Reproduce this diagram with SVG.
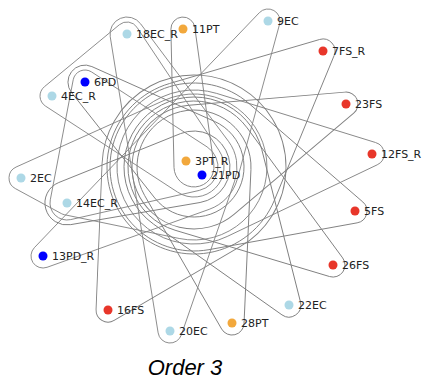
<svg xmlns="http://www.w3.org/2000/svg" width="423" height="381" viewBox="0 0 423 381">
<style>
.hull{fill:none;stroke:#808080;stroke-width:0.9}
.lbl{font-family:"DejaVu Sans",sans-serif;font-size:11px;fill:#222}
.ec{fill:#add8e6}.fs{fill:#e8362a}.pd{fill:#0000ff}.pt{fill:#f2a83c}
</style>
<rect width="423" height="381" fill="#fff"/>
<g id="connectors">
<path class="hull" transform="translate(194,167) rotate(-41.96)" d="M37.61,78.45 L178.69,10.82 A12,12 0 0 0 178.69,-10.82 L37.61,-78.45 A87,87 0 1 0 37.61,78.45 Z"/>
<path class="hull" transform="translate(194,167) rotate(-22.5)" d="M18.85,59.07 L168.15,11.43 A12,12 0 0 0 168.15,-11.43 L18.85,-59.07 A62,62 0 1 0 18.85,59.07 Z"/>
<path class="hull" transform="translate(194,167) rotate(-4.18)" d="M28.04,71.71 L182.87,11.18 A12,12 0 0 0 182.87,-11.18 L28.04,-71.71 A77,77 0 1 0 28.04,71.71 Z"/>
<path class="hull" transform="translate(194,167) rotate(15.3)" d="M36.24,75.78 L172.08,10.83 A12,12 0 0 0 172.08,-10.83 L36.24,-75.78 A84,84 0 1 0 36.24,75.78 Z"/>
<path class="hull" transform="translate(194,167) rotate(35.2)" d="M20.95,62.59 L173.91,11.38 A12,12 0 0 0 173.91,-11.38 L20.95,-62.59 A66,66 0 1 0 20.95,62.59 Z"/>
<path class="hull" transform="translate(194,167) rotate(55.5)" d="M24.24,65.67 L171.66,11.26 A12,12 0 0 0 171.66,-11.26 L24.24,-65.67 A70,70 0 1 0 24.24,65.67 Z"/>
<path class="hull" transform="translate(194,167) rotate(76.3)" d="M15.97,54.72 L163.96,11.52 A12,12 0 0 0 163.96,-11.52 L15.97,-54.72 A57,57 0 1 0 15.97,54.72 Z"/>
<path class="hull" transform="translate(194,167) rotate(121)" d="M44.1,80.74 L172.65,10.53 A12,12 0 0 0 172.65,-10.53 L44.1,-80.74 A92,92 0 1 0 44.1,80.74 Z"/>
<path class="hull" transform="translate(194,167) rotate(-94.6)" d="M1.16,19.97 L139.09,11.98 A12,12 0 0 0 139.09,-11.98 L1.16,-19.97 A20,20 0 1 0 1.16,19.97 Z"/>
<path class="hull" transform="translate(194,167) rotate(-142.1)" d="M11.94,48.55 L142.26,16.51 A17,17 0 0 0 142.26,-16.51 L11.94,-48.55 A50,50 0 1 0 11.94,48.55 Z"/>
<path class="hull" transform="translate(194,167) rotate(164.2)" d="M3.82,35.8 L134.33,21.88 A22,22 0 0 0 134.33,-21.88 L3.82,-35.8 A36,36 0 1 0 3.82,35.8 Z"/>
<path class="hull" d="M34.33,247.7 L259.33,12.7 A12,12 0 0 1 279.58,24.15 L237.41,178.83 A45,45 0 0 1 209.14,209.37 L47.04,267.3 A12,12 0 0 1 34.33,247.7 Z"/>
<path class="hull" d="M44.35,86.75 L119.35,24.75 A12,12 0 0 1 136.99,27.34 L218.97,150.36 A30,30 0 0 1 177.63,192.13 L45.45,106.05 A12,12 0 0 1 44.35,86.75 Z"/>
<path class="hull" d="M158.15,332.92 L110.22,36.72 A17,17 0 0 1 140.61,23.82 L228.43,141.24 A43,43 0 0 1 234.64,181.08 L181.34,334.93 A12,12 0 0 1 158.15,332.92 Z"/>
<path class="hull" d="M61.27,213.54 L15.27,188.54 A12,12 0 0 1 16.07,167.06 L164.01,100.42 A73,73 0 1 1 179.2,238.48 L64.57,214.75 A12,12 0 0 1 61.27,213.54 Z"/>
<path class="hull" d="M50.3,199.81 L73.21,79.75 A12,12 0 0 1 91.53,71.93 L207.06,146.86 A24,24 0 0 1 199.31,190.4 L70.76,219.58 A17,17 0 0 1 50.3,199.81 Z"/>
</g>
<g id="n-11PT"><circle class="pt" cx="183" cy="29" r="4.5"/><text class="lbl" x="192" y="33">11PT</text></g>
<g id="n-18EC_R"><circle class="ec" cx="127" cy="34" r="4.5"/><text class="lbl" x="136" y="38">18EC_R</text></g>
<g id="n-9EC"><circle class="ec" cx="268" cy="21" r="4.5"/><text class="lbl" x="277" y="25">9EC</text></g>
<g id="n-7FS_R"><circle class="fs" cx="323" cy="51" r="4.5"/><text class="lbl" x="332" y="55">7FS_R</text></g>
<g id="n-6PD"><circle class="pd" cx="85" cy="82" r="4.5"/><text class="lbl" x="94" y="86">6PD</text></g>
<g id="n-4EC_R"><circle class="ec" cx="52" cy="96" r="4.5"/><text class="lbl" x="61" y="100">4EC_R</text></g>
<g id="n-23FS"><circle class="fs" cx="346" cy="104" r="4.5"/><text class="lbl" x="355" y="108">23FS</text></g>
<g id="n-12FS_R"><circle class="fs" cx="372" cy="154" r="4.5"/><text class="lbl" x="381" y="158">12FS_R</text></g>
<g id="n-3PT_R"><circle class="pt" cx="186" cy="161" r="4.5"/><text class="lbl" x="195" y="165">3PT_R</text></g>
<g id="n-21PD"><circle class="pd" cx="202" cy="175" r="4.5"/><text class="lbl" x="211" y="179">21PD</text></g>
<g id="n-2EC"><circle class="ec" cx="21" cy="178" r="4.5"/><text class="lbl" x="30" y="182">2EC</text></g>
<g id="n-14EC_R"><circle class="ec" cx="67" cy="203" r="4.5"/><text class="lbl" x="76" y="207">14EC_R</text></g>
<g id="n-5FS"><circle class="fs" cx="355" cy="211" r="4.5"/><text class="lbl" x="364" y="215">5FS</text></g>
<g id="n-13PD_R"><circle class="pd" cx="43" cy="256" r="4.5"/><text class="lbl" x="52" y="260">13PD_R</text></g>
<g id="n-26FS"><circle class="fs" cx="333" cy="265" r="4.5"/><text class="lbl" x="342" y="269">26FS</text></g>
<g id="n-16FS"><circle class="fs" cx="108" cy="310" r="4.5"/><text class="lbl" x="117" y="314">16FS</text></g>
<g id="n-22EC"><circle class="ec" cx="289" cy="305" r="4.5"/><text class="lbl" x="298" y="309">22EC</text></g>
<g id="n-28PT"><circle class="pt" cx="232" cy="323" r="4.5"/><text class="lbl" x="241" y="327">28PT</text></g>
<g id="n-20EC"><circle class="ec" cx="170" cy="331" r="4.5"/><text class="lbl" x="179" y="335">20EC</text></g>
<text x="185" y="375" text-anchor="middle" font-family="Liberation Sans, Arial, sans-serif" font-style="italic" font-size="22" fill="#000">Order 3</text>
</svg>
